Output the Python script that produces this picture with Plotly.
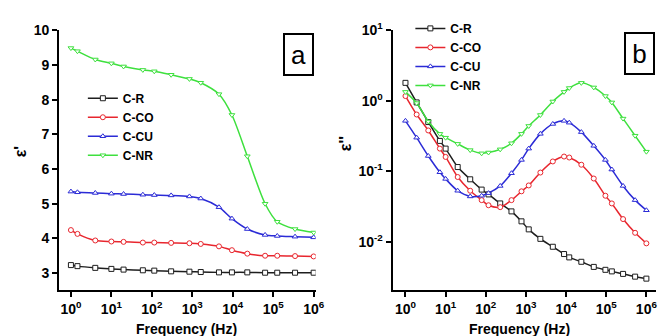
import plotly.graph_objects as go

# ---- panel (a): real permittivity eps' vs frequency ----
freq_a = [1, 1.45, 4, 10, 20, 60, 115, 300, 850, 1620, 4570, 9550,
          22900, 63100, 126000, 347000, 1000000]
eps1_CR = [3.23, 3.20, 3.15, 3.12, 3.10, 3.08, 3.07, 3.05, 3.04, 3.03,
           3.02, 3.02, 3.02, 3.01, 3.01, 3.01, 3.01]
eps1_CO = [4.24, 4.13, 3.94, 3.91, 3.90, 3.88, 3.88, 3.87, 3.86, 3.84,
           3.77, 3.66, 3.56, 3.50, 3.50, 3.49, 3.48]
eps1_CU = [5.35, 5.33, 5.31, 5.29, 5.28, 5.26, 5.25, 5.24, 5.21, 5.15,
           4.90, 4.57, 4.27, 4.10, 4.07, 4.05, 4.03]
eps1_NR = [9.49, 9.40, 9.16, 9.05, 8.96, 8.86, 8.82, 8.72, 8.60, 8.49,
           8.16, 7.56, 6.37, 5.00, 4.48, 4.27, 4.17]

# ---- panel (b): dielectric loss eps'' vs frequency ----
freq_b = [1, 1.9, 3.7, 7.2, 10, 20, 41, 79, 117, 229, 437, 776, 1175,
          2290, 4680, 8910, 12000, 24000, 49000, 95500, 138000, 263000,
          525000, 1000000]
eps2_CR = [1.8, 0.95, 0.50, 0.27, 0.21, 0.115, 0.077, 0.055, 0.047, 0.035,
           0.027, 0.0195, 0.015, 0.011, 0.0085, 0.0067, 0.0060, 0.0052,
           0.0044, 0.0040, 0.0038, 0.0035, 0.0032, 0.0030]
eps2_CO = [1.17, 0.64, 0.38, 0.21, 0.16, 0.083, 0.053, 0.039, 0.033, 0.031,
           0.039, 0.052, 0.063, 0.096, 0.138, 0.162, 0.157, 0.124, 0.079,
           0.045, 0.035, 0.021, 0.0134, 0.0095]
eps2_CU = [0.52, 0.30, 0.165, 0.097, 0.078, 0.053, 0.044, 0.045, 0.049,
           0.062, 0.094, 0.145, 0.21, 0.34, 0.47, 0.52, 0.49, 0.36, 0.23,
           0.145, 0.106, 0.062, 0.039, 0.028]
eps2_NR = [1.34, 0.93, 0.51, 0.34, 0.30, 0.245, 0.20, 0.18, 0.185, 0.205,
           0.25, 0.34, 0.44, 0.63, 0.98, 1.34, 1.52, 1.80, 1.55, 1.17, 0.95,
           0.56, 0.32, 0.19]

# tick positions and their labels
x_ticks = [1, 10, 100, 1000, 10000, 100000, 1000000]
x_ticktext = ["10<sup>0</sup>", "10<sup>1</sup>", "10<sup>2</sup>", "10<sup>3</sup>",
              "10<sup>4</sup>", "10<sup>5</sup>", "10<sup>6</sup>"]
y2_ticks = [0.01, 0.1, 1, 10]
y2_ticktext = ["10<sup>-2</sup>", "10<sup>-1</sup>", "10<sup>0</sup>", "10<sup>1</sup>"]

names = ["C-R", "C-CO", "C-CU", "C-NR"]
colors = ["#1e1e1e", "#e8262e", "#2b2bd6", "#3ee03e"]
symbols = ["square", "circle", "triangle-up", "triangle-down"]
series_a = [eps1_CR, eps1_CO, eps1_CU, eps1_NR]
series_b = [eps2_CR, eps2_CO, eps2_CU, eps2_NR]

W, H = 665, 336


def px(x):
    return x / W


def py(y):
    return 1 - y / H


FONT = "Liberation Sans"
fig = go.Figure()

for name, col, sym, ya in zip(names, colors, symbols, series_a):
    fig.add_trace(go.Scatter(
        x=freq_a, y=ya, name=name, mode="lines+markers",
        line=dict(color=col, width=1.5, shape="spline", smoothing=0.8),
        marker=dict(symbol=sym, size=5, color="white",
                    line=dict(color=col, width=1)),
        xaxis="x", yaxis="y", legend="legend"))

for name, col, sym, yb in zip(names, colors, symbols, series_b):
    fig.add_trace(go.Scatter(
        x=freq_b, y=yb, name=name, mode="lines+markers",
        line=dict(color=col, width=1.5, shape="spline", smoothing=0.8),
        marker=dict(symbol=sym, size=5, color="white",
                    line=dict(color=col, width=1)),
        xaxis="x2", yaxis="y2", legend="legend2"))

tickfont = dict(family=FONT, size=14, color="black", weight="bold")
common = dict(showline=True, linewidth=2, linecolor="black", ticks="outside",
              ticklen=5, tickwidth=1.5, tickcolor="black", showgrid=False,
              zeroline=False, tickfont=tickfont)
ydom = [py(289), py(21)]

fig.update_layout(
    width=W, height=H, margin=dict(l=0, r=0, t=0, b=0),
    paper_bgcolor="white", plot_bgcolor="white",
    xaxis=dict(domain=[px(60), px(320)], type="log", range=[-0.29, 6.05],
               tickvals=x_ticks, ticktext=x_ticktext, anchor="y", **common),
    yaxis=dict(domain=ydom, range=[2.5, 10], dtick=1, anchor="x", **common),
    xaxis2=dict(domain=[px(398), 1.0], type="log", range=[-0.32, 6.24],
                tickvals=x_ticks, ticktext=x_ticktext, anchor="y2", **common),
    yaxis2=dict(domain=ydom, type="log", range=[-2.69, 1],
                tickvals=y2_ticks, ticktext=y2_ticktext, anchor="x2", **common),
    legend=dict(x=px(84), y=py(76), xanchor="left", yanchor="top",
                bgcolor="rgba(0,0,0,0)", itemwidth=30, tracegroupgap=0,
                font=dict(family=FONT, size=12, color="black", weight="bold")),
    legend2=dict(x=px(416), y=py(4), xanchor="left", yanchor="top",
                 bgcolor="rgba(0,0,0,0)", itemwidth=30, tracegroupgap=0,
                 font=dict(family=FONT, size=12, color="black", weight="bold")),
    showlegend=True,
)

ann = []
# panel tags
for tag, cx, cy in [("a", 303, 46), ("b", 648, 45)]:
    ann.append(dict(text=tag, x=px(cx), y=py(cy), xref="paper", yref="paper",
                    xanchor="center", yanchor="middle",
                    showarrow=False, font=dict(family=FONT, size=26, color="black"),
                    bordercolor="black", borderwidth=2, borderpad=0,
                    width=27, height=39, bgcolor="white"))
# axis titles
for text, cx in [("Frequency (Hz)", 189), ("Frequency (Hz)", 527)]:
    ann.append(dict(text=text, x=px(cx), y=py(329), xref="paper", yref="paper",
                    xanchor="center", yanchor="middle", showarrow=False,
                    font=dict(family=FONT, size=14, color="black", weight="bold")))
for text, cx, cy in [("ε'", 21, 146), ("ε''", 351, 138)]:
    ann.append(dict(text=text, x=px(cx), y=py(cy), xref="paper", yref="paper",
                    xanchor="center", yanchor="middle",
                    showarrow=False, textangle=-90,
                    font=dict(family=FONT, size=16, color="black", weight="bold")))
fig.update_layout(annotations=ann)

fig.write_html("out.html")
